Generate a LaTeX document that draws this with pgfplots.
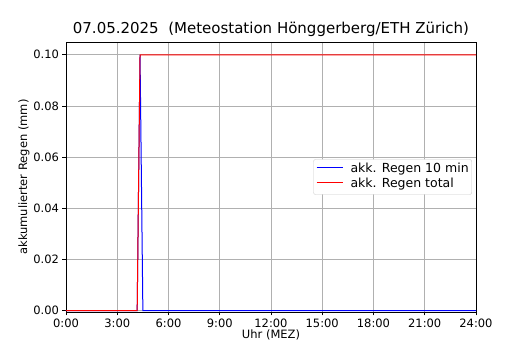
\documentclass[border=0pt]{standalone}
\usepackage{pgfplots}
\pgfplotsset{compat=1.18}
\usepackage{fontspec}
\setmainfont{DejaVu Sans}
\newcommand{\legline}[1]{{\color{#1}\rule[0.33em]{26pt}{1.1pt}}\hspace{8pt}}
\begin{document}
\begin{tikzpicture}
\begin{axis}[
  scale only axis, width=410pt, height=270pt,
  at={(0,0)}, anchor=south west,
  xmin=0, xmax=24, ymin=-0.0005, ymax=0.105,
  xtick={0,3,6,9,12,15,18,21,24},
  xticklabels={0:00,3:00,6:00,9:00,12:00,15:00,18:00,21:00,24:00},
  ytick={0,0.02,0.04,0.06,0.08,0.10},
  yticklabel style={/pgf/number format/.cd,fixed,fixed zerofill,precision=2},
  /pgf/number format/assume math mode=true,
  tick label style={font=\fontsize{11.5}{13}\selectfont},
  label style={font=\fontsize{11.5}{13}\selectfont},
  xlabel={Uhr (MEZ)}, ylabel={akkumulierter Regen (mm)},
  xlabel style={yshift=5pt}, ylabel style={yshift=-3pt},
  title={07.05.2025\ \ (Meteostation Hönggerberg/ETH Zürich)},
  title style={font=\fontsize{15}{17}\selectfont, yshift=-4pt},
  grid=major, grid style={draw=black!31, line width=0.8pt},
  tick align=outside, tick pos=left,
  major tick length=3.5pt,
  axis line style={line width=0.8pt},
  every tick/.style={draw=black, line width=0.8pt},
]
\addplot[draw=blue, line width=1pt] coordinates {(0,0) (4.1667,0) (4.3333,0.1) (4.5,0) (24,0)};
\addplot[draw=red, line width=1pt] coordinates {(0,0) (4.1667,0) (4.3333,0.1) (24,0.1)};
\node[draw=black!20, fill=white, rounded corners=2pt, anchor=east, inner sep=3pt,
  font=\fontsize{12.5}{14}\selectfont] at (rel axis cs:0.99,0.5)
  {\begin{tabular}{@{}l@{}}\legline{blue}akk. Regen 10 min\\[1pt]\legline{red}akk. Regen total\end{tabular}};
\end{axis}
\useasboundingbox (-66pt,-38pt) rectangle (464pt,312pt);
\end{tikzpicture}
\end{document}
